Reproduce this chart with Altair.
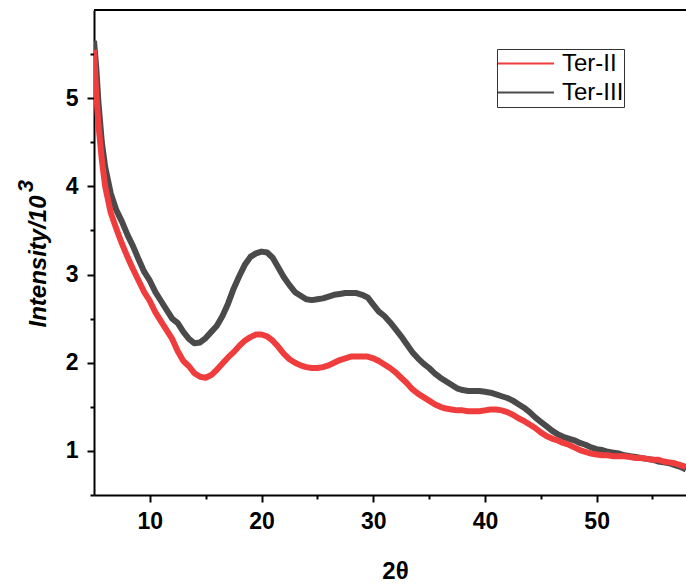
import altair as alt
import pandas as pd

two_theta = [5.0, 5.2, 5.4, 5.7, 6.0, 6.5, 7.0, 7.5, 8.0, 8.5, 9.0, 9.5, 10.0, 10.5, 11.0, 11.5,
             12.0, 12.5, 13.0, 13.5, 14.0, 14.5, 15.0, 15.5, 16.0, 16.5, 17.0, 17.5, 18.0, 18.5,
             19.0, 19.5, 20.0, 20.5, 21.0, 21.5, 22.0, 22.5, 23.0, 23.5, 24.0, 24.5, 25.0, 25.5,
             26.0, 26.5, 27.0, 27.5, 28.0, 28.5, 29.0, 29.5, 30.0, 30.5, 31.0, 31.5, 32.0, 32.5,
             33.0, 33.5, 34.0, 34.5, 35.0, 35.5, 36.0, 36.5, 37.0, 37.5, 38.0, 38.5, 39.0, 39.5,
             40.0, 40.5, 41.0, 41.5, 42.0, 42.5, 43.0, 43.5, 44.0, 44.5, 45.0, 45.5, 46.0, 46.5,
             47.0, 47.5, 48.0, 48.5, 49.0, 49.5, 50.0, 50.5, 51.0, 51.5, 52.0, 52.5, 53.0, 53.5,
             54.0, 54.5, 55.0, 55.5, 56.0, 56.5, 57.0, 57.5, 58.0]

ter_ii = [5.55, 5.05, 4.70, 4.30, 4.00, 3.70, 3.52, 3.35, 3.20, 3.06, 2.93, 2.80, 2.70, 2.57, 2.47, 2.37,
          2.27, 2.13, 2.02, 1.96, 1.88, 1.84, 1.83, 1.86, 1.92, 1.99, 2.06, 2.12, 2.19, 2.25,
          2.29, 2.32, 2.32, 2.30, 2.25, 2.18, 2.10, 2.04, 2.00, 1.97, 1.95, 1.94, 1.94, 1.95,
          1.97, 2.00, 2.03, 2.05, 2.07, 2.07, 2.07, 2.07, 2.05, 2.02, 1.98, 1.94, 1.89, 1.83,
          1.77, 1.70, 1.65, 1.61, 1.57, 1.53, 1.50, 1.48, 1.47, 1.46, 1.46, 1.45, 1.45, 1.45,
          1.46, 1.47, 1.47, 1.46, 1.44, 1.41, 1.37, 1.34, 1.30, 1.26, 1.21, 1.17, 1.14, 1.12,
          1.09, 1.07, 1.04, 1.01, 0.99, 0.97, 0.96, 0.95, 0.95, 0.94, 0.94, 0.94, 0.93, 0.92,
          0.92, 0.91, 0.90, 0.90, 0.88, 0.87, 0.86, 0.84, 0.82]

ter_iii = [5.65, 5.35, 4.95, 4.50, 4.22, 3.92, 3.73, 3.60, 3.45, 3.32, 3.17, 3.03, 2.93, 2.80, 2.70, 2.60,
           2.50, 2.45, 2.35, 2.27, 2.22, 2.23, 2.28, 2.35, 2.42, 2.53, 2.67, 2.84, 2.98, 3.11,
           3.20, 3.24, 3.26, 3.25, 3.19, 3.08, 2.97, 2.88, 2.80, 2.76, 2.72, 2.71, 2.72, 2.73,
           2.75, 2.77, 2.78, 2.79, 2.79, 2.79, 2.77, 2.74, 2.66, 2.58, 2.53, 2.46, 2.38, 2.30,
           2.21, 2.12, 2.05, 1.99, 1.94, 1.88, 1.83, 1.79, 1.75, 1.71, 1.69, 1.68, 1.68, 1.68,
           1.67, 1.66, 1.64, 1.62, 1.60, 1.57, 1.53, 1.49, 1.44, 1.38, 1.33, 1.28, 1.23, 1.19,
           1.16, 1.14, 1.12, 1.09, 1.07, 1.04, 1.02, 1.01, 0.99, 0.98, 0.97, 0.95, 0.94, 0.93,
           0.92, 0.91, 0.90, 0.88, 0.87, 0.86, 0.84, 0.82, 0.79]

series_names = ["Ter-II", "Ter-III"]
series_colors = ["#EF3D3D", "#4A4A4A"]
x_major = [10, 20, 30, 40, 50]
x_minor = [15, 25, 35, 45, 55]
y_major = [1, 2, 3, 4, 5]
y_minor = [0.5, 1.5, 2.5, 3.5, 4.5, 5.5]
y_title_main = "Intensity/10"
y_title_sup = "3"

rows = []
for name, vals in zip(series_names, [ter_ii, ter_iii]):
    for xv, yv in zip(two_theta, vals):
        rows.append({"two_theta": xv, "intensity": yv, "series": name})
df = pd.DataFrame(rows)

W, H = 592, 485
FONT = "Liberation Sans"

xscale = alt.Scale(domain=[5, 58.0], nice=False, zero=False)
yscale = alt.Scale(domain=[0.5, 6], nice=False, zero=False)

color = alt.Color(
    "series:N",
    scale=alt.Scale(domain=series_names, range=series_colors),
    legend=alt.Legend(
        title=None, orient="none", legendX=403, legendY=39, padding=0,
        strokeColor="#333333", fillColor="white", clipHeight=29, rowPadding=0,
        symbolType="stroke", symbolSize=3136, symbolStrokeWidth=2,
        labelFont=FONT, labelFontSize=24, labelOffset=7, labelColor="black",
    ),
)

x_main = alt.X(
    "two_theta:Q", scale=xscale,
    axis=alt.Axis(values=x_major, title="2θ", orient="bottom", grid=False,
                  tickSize=7, tickWidth=2, tickColor="black",
                  domainWidth=2, domainColor="black",
                  labelFont=FONT, labelFontSize=23, labelFontWeight="bold",
                  labelColor="black", labelPadding=8, format="d",
                  titleFont=FONT, titleFontSize=24, titleFontWeight="bold",
                  titleColor="black", titleX=301, titleY=83,
                  titleBaseline="alphabetic", titleAlign="center"),
)
y_main = alt.Y(
    "intensity:Q", scale=yscale,
    axis=alt.Axis(values=y_major, title=y_title_main, orient="left", grid=False,
                  tickSize=7, tickWidth=2, tickColor="black",
                  domainWidth=2, domainColor="black",
                  labelFont=FONT, labelFontSize=23, labelFontWeight="bold",
                  labelColor="black", labelPadding=9, format="d",
                  titleFont=FONT, titleFontSize=24, titleFontWeight="bold",
                  titleFontStyle="italic", titleColor="black",
                  titleX=-49, titleY=251, titleAngle=270,
                  titleBaseline="alphabetic", titleAlign="center"),
)

base = alt.Chart(df)

gray_line = base.transform_filter(alt.datum.series == "Ter-III").mark_line(
    clip=True, strokeWidth=6, strokeJoin="round"
).encode(x=x_main, y=y_main, color=color)

red_line = base.transform_filter(alt.datum.series == "Ter-II").mark_line(
    clip=True, strokeWidth=6, strokeJoin="round"
).encode(
    x=alt.X("two_theta:Q", scale=xscale, axis=None),
    y=alt.Y("intensity:Q", scale=yscale, axis=None),
    color=color,
)

minor = base.mark_point(opacity=0).encode(
    x=alt.X("two_theta:Q", scale=xscale,
            axis=alt.Axis(values=x_minor, orient="bottom", labels=False, domain=False,
                          grid=False, tickSize=4, tickWidth=2, tickColor="black", title="")),
    y=alt.Y("intensity:Q", scale=yscale,
            axis=alt.Axis(values=y_minor, orient="left", labels=False, domain=False,
                          grid=False, tickSize=4, tickWidth=2, tickColor="black", title="")),
)

top_border = alt.Chart(pd.DataFrame({"k": [0]})).mark_rule(
    color="black", strokeWidth=2
).encode(x=alt.value(0), x2=alt.value(W), y=alt.value(0))

sup = alt.Chart(pd.DataFrame({"t": [y_title_sup]})).mark_text(
    font=FONT, fontSize=22, fontWeight="bold", fontStyle="italic", color="black",
    angle=270, align="center", baseline="alphabetic", clip=False,
).encode(text="t:N", x=alt.value(-61), y=alt.value(176))

chart = alt.layer(gray_line, red_line, minor, top_border, sup).resolve_axis(
    x="independent", y="independent"
).properties(
    width=W, height=H,
    padding={"left": 94, "top": 10, "right": 0, "bottom": 89},
    autosize=alt.AutoSizeParams(type="none"),
    background="white",
).configure_view(stroke="transparent")

chart.save("out.html", embed_options={"renderer": "svg", "actions": False})
